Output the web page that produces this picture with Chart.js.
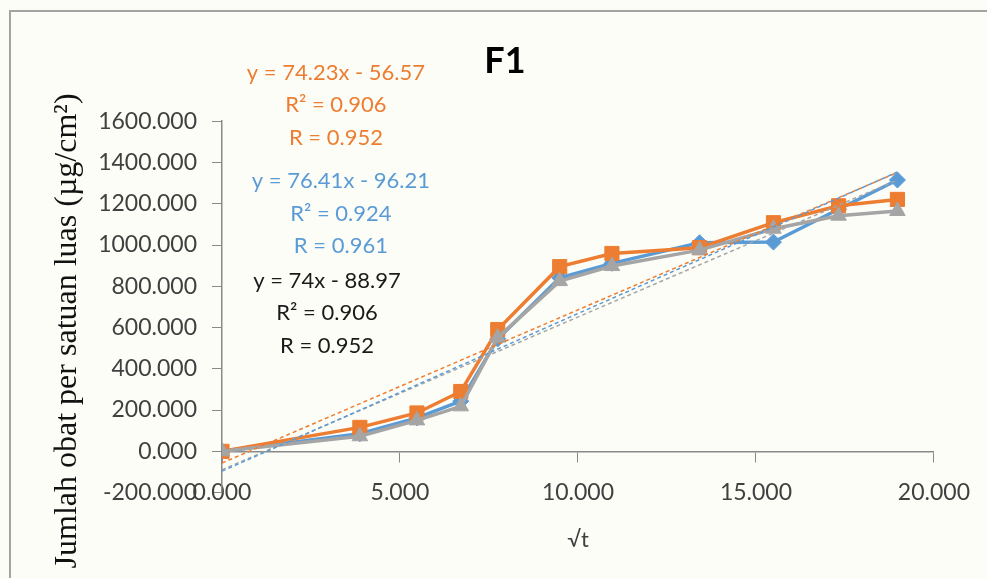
<!DOCTYPE html>
<html lang="id">
<head>
    <meta charset="UTF-8">
    <title>F1</title>
    <script src="https://cdn.jsdelivr.net/npm/chart.js"></script>
    <style>
        body { margin: 0; background: #fdfdf8; }
        .bingkai {
            position: absolute; left: 9px; top: 10px; width: 1000px; height: 600px;
            border-left: 2px solid #a3a3a3; border-top: 2px solid #a3a3a3;
        }
        #grafik { position: absolute; left: 0; top: 0; }
    </style>
</head>
<body>

    <div class="bingkai"></div>
    <canvas id="grafik" width="987" height="578"></canvas>

    <script>
        // akar waktu (√t) untuk t = 0, 15, 30, 45, 60, 90, 120, 180, 240, 300, 360
        const akarT = [0, 3.873, 5.477, 6.708, 7.746, 9.487, 10.954, 13.416, 15.492, 17.321, 18.974];

        // jumlah obat per satuan luas
        const seriBiru = [0, 85, 162, 243, 545, 841, 911, 1011, 1014, 1173, 1315];
        const seriOranye = [0, 116, 186, 290, 590, 895, 959, 987, 1108, 1190, 1221];
        const seriAbu = [0, 73, 150, 218, 551, 825, 898, 975, 1079, 1142, 1165];

        // ujung garis tren (linear)
        const trenX = [0, 18.974];
        const trenBiru = [-96.2, 1353.6];
        const trenOranye = [-56.6, 1351.9];
        const trenAbu = [-89.0, 1315.1];

        const labelOranye = ['y = 74.23x - 56.57', 'R² = 0.906', 'R = 0.952'];
        const labelBiru = ['y = 76.41x - 96.21', 'R² = 0.924', 'R = 0.961'];
        const labelAbu = ['y = 74x - 88.97', 'R² = 0.906', 'R = 0.952'];

        const judul = 'F1';
        const judulX = '√t';
        const judulY = 'Jumlah obat per satuan luas (µg/cm²)';

        const BIRU = '#5b9bd5';
        const ORANYE = '#ed7d31';
        const ABU = '#a5a5a5';
        const GARIS = '#898989';

        function titik(xs, ys) {
            return xs.map((x, i) => ({ x: x, y: ys[i] }));
        }

        function seri(nama, ys, warna, gaya, radius, urutan) {
            return {
                label: nama,
                data: titik(akarT, ys),
                showLine: true,
                borderColor: warna,
                backgroundColor: warna,
                borderWidth: 3.5,
                pointStyle: gaya,
                pointRadius: radius,
                pointBorderWidth: 1,
                order: urutan
            };
        }

        function tren(ys, warna) {
            return {
                label: 'tren',
                data: titik(trenX, ys),
                showLine: true,
                borderColor: warna,
                borderWidth: 1.5,
                borderDash: [4, 3],
                pointRadius: 0,
                order: 0
            };
        }

        // menulis persamaan garis tren di atas grafik
        const labelTren = {
            id: 'labelTren',
            afterDatasetsDraw(chart, args, opts) {
                const ctx = chart.ctx;
                const sx = chart.scales.x, sy = chart.scales.y;
                ctx.save();
                ctx.font = opts.font;
                ctx.textAlign = 'center';
                ctx.textBaseline = 'middle';
                opts.blok.forEach(b => {
                    const px = sx.getPixelForValue(b.x);
                    const py = sy.getPixelForValue(b.y);
                    ctx.fillStyle = b.warna;
                    b.baris.forEach((t, i) => ctx.fillText(t, px, py + i * opts.jarak));
                });
                ctx.restore();
            }
        };

        Chart.defaults.font.family = 'Lato';
        Chart.defaults.color = '#404040';

        const sumbuFont = { family: 'Lato', size: 23 };
        const formatAngka = v => Number(v).toFixed(3);

        new Chart(document.getElementById('grafik'), {
            type: 'scatter',
            data: {
                datasets: [
                    tren(trenBiru, BIRU),
                    tren(trenOranye, ORANYE),
                    tren(trenAbu, ABU),
                    seri('Biru', seriBiru, BIRU, 'rectRot', 8, 3),
                    seri('Oranye', seriOranye, ORANYE, 'rect', 10, 2),
                    seri('Abu', seriAbu, ABU, 'triangle', 9, 1)
                ]
            },
            options: {
                responsive: false,
                animation: false,
                layout: { padding: { left: 73, right: 50, top: 0, bottom: 0 } },
                plugins: {
                    legend: { display: false },
                    tooltip: { enabled: false },
                    title: {
                        display: true,
                        text: judul,
                        color: '#000',
                        font: { family: 'Lato', size: 36, weight: 'bold' },
                        padding: { top: 40, bottom: 38 }
                    },
                    labelTren: {
                        font: '22px Lato',
                        jarak: 32.5,
                        blok: [
                            { baris: labelOranye, warna: ORANYE, x: 3.2, y: 1836 },
                            { baris: labelBiru, warna: BIRU, x: 3.34, y: 1310 },
                            { baris: labelAbu, warna: '#1a1a1a', x: 2.95, y: 828 }
                        ]
                    }
                },
                scales: {
                    x: {
                        type: 'linear',
                        position: { y: 0 },
                        min: 0,
                        max: 20,
                        ticks: { stepSize: 5, padding: 17, font: sumbuFont, callback: formatAngka },
                        grid: { drawOnChartArea: false, tickLength: 10, color: GARIS },
                        border: { color: GARIS, width: 1.5 }
                    },
                    x2: {
                        type: 'linear',
                        axis: 'x',
                        position: 'bottom',
                        min: 0,
                        max: 20,
                        ticks: { display: false },
                        grid: { display: false, drawTicks: false },
                        border: { display: false },
                        title: {
                            display: true,
                            text: judulX,
                            font: { family: 'Lato', size: 22 },
                            padding: { top: 34, bottom: 25 }
                        }
                    },
                    y: {
                        min: -200,
                        max: 1600,
                        ticks: { stepSize: 200, padding: 15, font: sumbuFont, callback: formatAngka },
                        grid: { drawOnChartArea: false, tickLength: 10, color: GARIS },
                        border: { color: GARIS, width: 1.5 },
                        title: {
                            display: true,
                            text: judulY + '\u00a0\u00a0\u00a0\u00a0\u00a0\u00a0',
                            color: '#111',
                            font: { family: 'Liberation Serif', size: 32 },
                            padding: { top: -25, bottom: 0 }
                        },
                        afterFit(scale) { scale.width = 149; }
                    }
                }
            },
            plugins: [labelTren]
        });
    </script>

</body>
</html>
